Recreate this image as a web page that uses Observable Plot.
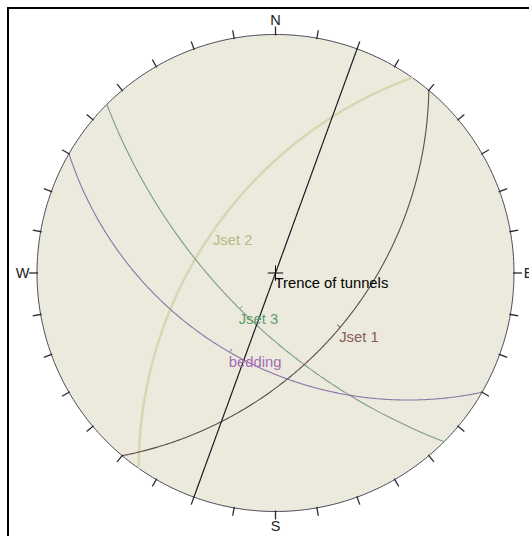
<!DOCTYPE html>
<html>
<head>
<meta charset="utf-8">
<script src="https://cdn.jsdelivr.net/npm/d3@7"></script>
<script src="https://cdn.jsdelivr.net/npm/@observablehq/plot@0.6"></script>
<style>
  html, body { margin: 0; padding: 0; background: #fff; overflow: hidden; width: 529px; height: 536px; }
  #wrap { position: relative; width: 529px; height: 536px; overflow: hidden; }
  #frame { position: absolute; left: 7px; top: 7px; width: 600px; height: 600px; border: 2px solid #000; pointer-events: none; }
  svg { display: block; }
</style>
</head>
<body>
<div id="wrap"><div id="chart"></div><div id="frame"></div></div>
<script>
// ---- data (read from the stereonet) ----
const planeNames    = ["Jset 2", "Jset 3", "bedding", "Jset 1", "Trence of tunnels"];
const dipDirections = [305, 225, 210, 130, 110];
const dips          = [55, 66, 48, 51, 90];
const tickAzimuths  = d3.range(0, 360, 10);
const cardinalLabels   = ["N", "E", "S", "W"];
const cardinalAzimuths = [0, 90, 180, 270];

// ---- styles ----
const lineColors  = ["#d8d6b2", "#7c9d88", "#8a74a8", "#5f4c48", "#1c1c28"];
const labelColors = ["#b8b884", "#5c9e6c", "#a66bb6", "#8a5a5a", "#000000"];
const lineWidths  = [2.4, 1.1, 1.1, 1.1, 1.2];

// ---- layout ----
const W = 529, H = 536, CX = 275, CY = 272.5, R = 238.5;
const px = p => p / R; // pixels -> data units

// equal-angle, lower hemisphere projection
const rad = Math.PI / 180;
function project(trend, plunge) {
  const r = Math.tan((90 - plunge) / 2 * rad);
  return {x: r * Math.sin(trend * rad), y: r * Math.cos(trend * rad)};
}
function lineOnPlane(dd, dip, theta) {
  const s = (dd - 90) * rad, d = dd * rad, dp = dip * rad, t = theta * rad;
  const e = Math.cos(t) * Math.sin(s) + Math.sin(t) * Math.sin(d) * Math.cos(dp);
  const n = Math.cos(t) * Math.cos(s) + Math.sin(t) * Math.cos(d) * Math.cos(dp);
  const z = Math.sin(t) * Math.sin(dp);
  const plunge = Math.asin(Math.max(-1, Math.min(1, z))) / rad;
  const trend = Math.atan2(e, n) / rad;
  return project(trend, plunge);
}
const curves = planeNames.map((name, i) =>
  d3.range(0, 180.5, 0.5).map(th => ({name, ...lineOnPlane(dipDirections[i], dips[i], th)})));
const dipPoints = planeNames.map((name, i) => ({name, i, ...project(dipDirections[i], dips[i])}));

const primitive = d3.range(0, 361, 1).map(a => ({x: Math.sin(a * rad), y: Math.cos(a * rad)}));
const ticks = tickAzimuths.map(a => ({
  x1: (1 - px(1)) * Math.sin(a * rad), y1: (1 - px(1)) * Math.cos(a * rad),
  x2: (1 + px(8)) * Math.sin(a * rad), y2: (1 + px(8)) * Math.cos(a * rad)
}));
const cardinals = cardinalLabels.map((t, i) => ({
  t, x: (1 + px(14.5)) * Math.sin(cardinalAzimuths[i] * rad), y: (1 + px(14.5)) * Math.cos(cardinalAzimuths[i] * rad)
}));
const dipTicks = dipPoints.filter(p => dips[p.i] < 90).map(p => {
  const r = Math.hypot(p.x, p.y);
  return {x1: p.x, y1: p.y, x2: p.x - p.x / r * px(4), y2: p.y - p.y / r * px(4), i: p.i};
});

const font = "Liberation Sans, Arial, Helvetica, sans-serif";

const chart = Plot.plot({
  width: W, height: H,
  marginLeft: 0, marginRight: 0, marginTop: 0, marginBottom: 0,
  x: {domain: [-CX / R, (W - CX) / R], axis: null},
  y: {domain: [-(H - CY) / R, CY / R], axis: null},
  style: {fontFamily: font, background: "transparent"},
  marks: [
    Plot.line(primitive, {x: "x", y: "y", fill: "#ebeadc", stroke: "#4d4d5c", strokeWidth: 1}),
    ...curves.map((c, i) => Plot.line(c, {x: "x", y: "y", stroke: lineColors[i], strokeWidth: lineWidths[i], strokeOpacity: 1})),
    Plot.link(dipTicks, {x1: "x1", y1: "y1", x2: "x2", y2: "y2", stroke: d => lineColors[d.i], strokeWidth: 1}),
    Plot.link(ticks, {x1: "x1", y1: "y1", x2: "x2", y2: "y2", stroke: "#2a2a33", strokeWidth: 1.3}),
    Plot.text(cardinals, {x: "x", y: "y", text: "t", fontSize: 14.5, fill: "#222"}),
    Plot.dot([{x: 0, y: 0}], {x: "x", y: "y", symbol: "plus", r: 5, stroke: "#000", strokeWidth: 1}),
    Plot.text(dipPoints, {x: "x", y: "y", text: "name", fill: d => labelColors[d.i], textAnchor: "start", dx: -1, dy: 10, fontSize: 14.8})
  ]
});
document.getElementById("chart").appendChild(chart);
</script>
</body>
</html>
